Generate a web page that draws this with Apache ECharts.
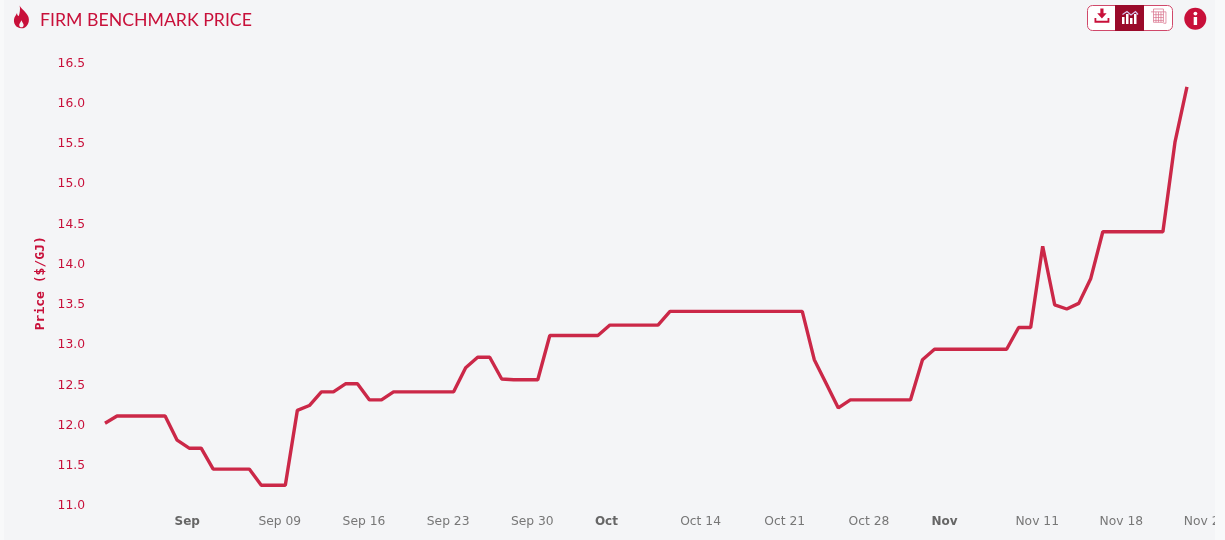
<!DOCTYPE html>
<html>
<head>
<meta charset="utf-8">
<style>
html,body{margin:0;padding:0;background:#f8f9fa;overflow:hidden}
#clip{position:absolute;left:4px;top:0;width:1211px;height:540px;overflow:hidden;background:#f4f5f7}
#main{position:absolute;left:-4px;top:0;width:1225px;height:540px}
</style>
</head>
<body>
<div id="clip"><div id="main"></div></div>
<script src="https://cdn.jsdelivr.net/npm/echarts@6/dist/echarts.min.js"></script>
<script>
var categories = [
 'Aug 25','Aug 26','Aug 27','Aug 28','Aug 29','Aug 30','Aug 31',
 'Sep 01','Sep 02','Sep 03','Sep 04','Sep 05','Sep 06','Sep 07','Sep 08','Sep 09','Sep 10','Sep 11','Sep 12','Sep 13','Sep 14','Sep 15',
 'Sep 16','Sep 17','Sep 18','Sep 19','Sep 20','Sep 21','Sep 22','Sep 23','Sep 24','Sep 25','Sep 26','Sep 27','Sep 28','Sep 29','Sep 30',
 'Oct 01','Oct 02','Oct 03','Oct 04','Oct 05','Oct 06','Oct 07','Oct 08','Oct 09','Oct 10','Oct 11','Oct 12','Oct 13','Oct 14','Oct 15',
 'Oct 16','Oct 17','Oct 18','Oct 19','Oct 20','Oct 21','Oct 22','Oct 23','Oct 24','Oct 25','Oct 26','Oct 27','Oct 28','Oct 29','Oct 30','Oct 31',
 'Nov 01','Nov 02','Nov 03','Nov 04','Nov 05','Nov 06','Nov 07','Nov 08','Nov 09','Nov 10','Nov 11','Nov 12','Nov 13','Nov 14','Nov 15','Nov 16','Nov 17',
 'Nov 18','Nov 19','Nov 20','Nov 21','Nov 22','Nov 23','Nov 24','Nov 25'
];
var prices = [
 12.01,12.1,12.1,12.1,12.1,12.1,11.8,
 11.7,11.7,11.44,11.44,11.44,11.44,11.24,11.24,11.24,12.17,12.23,12.4,12.4,12.5,12.5,
 12.3,12.3,12.4,12.4,12.4,12.4,12.4,12.4,12.7,12.83,12.83,12.56,12.55,12.55,12.55,
 13.1,13.1,13.1,13.1,13.1,13.23,13.23,13.23,13.23,13.23,13.4,13.4,13.4,13.4,13.4,
 13.4,13.4,13.4,13.4,13.4,13.4,13.4,12.8,12.5,12.2,12.3,12.3,12.3,12.3,12.3,12.3,
 12.8,12.93,12.93,12.93,12.93,12.93,12.93,12.93,13.2,13.2,14.21,13.48,13.43,13.5,13.81,14.39,14.39,
 14.39,14.39,14.39,14.39,15.5,16.19,null,null
];
var weekTicks = ['Sep 02','Sep 09','Sep 16','Sep 23','Sep 30','Oct 07','Oct 14','Oct 21','Oct 28','Nov 04','Nov 11','Nov 18','Nov 25'];
var monthTicks = {'Sep 02':'Sep','Oct 07':'Oct','Nov 04':'Nov'};
var titleText = 'FIRM BENCHMARK PRICE';
var yAxisName = 'Price ($/GJ)';

var RED = '#c8103a', LINE = '#cb2848', DARK = '#9a0a2a', FONT = '"DejaVu Sans"';

echarts.graphic.registerShape('iconDownload', echarts.graphic.extendPath('M6.500 0h3.500v5h3.500l-5.250 5.500-5.250-5.500h3.500z M0 10h2v3h12.500v-3h2v5H0z'));
echarts.graphic.registerShape('iconFlame', echarts.graphic.extendPath('M7 0C9 4 15 7 17 12C19 18 15 24 9 24C3 24 -1 19 1 13C2 11 3 10 4 8C4 10 5 11 6 11C7 8 8 4 7 0Z M9 23C10.500 23 11.500 22 11.500 20.500C11.500 19 10 18 9 15.500C8 18 6.500 19 6.500 20.500C6.500 22 7.500 23 9 23Z'));
echarts.graphic.registerShape('iconTable', echarts.graphic.extendPath('M3 3V0H15V3 M15 3H18V15H15 M3 3H15V14H3Z M0 3H3 M3 6H15 M3 9H15 M3 12H15 M6 3V14 M9 3V14 M12 3V14'));

var chart = echarts.init(document.getElementById('main'), null, {renderer:'canvas'});

var gfx = [
 {type:'iconFlame',x:13.5,y:5.5,scaleX:0.88,scaleY:0.95,style:{fill:RED,fillRule:'evenodd'}},
 {type:'rect',shape:{x:1087.5,y:5.5,width:85,height:25,r:5},style:{fill:'#fff',stroke:'#d0486a',lineWidth:1}},
 {type:'rect',shape:{x:1115,y:5,width:29,height:26},style:{fill:DARK}},
 {type:'iconDownload',x:1094.5,y:8.5,scaleX:0.9,scaleY:0.95,style:{fill:RED}},
 {type:'rect',shape:{x:1122,y:17,width:2.5,height:7},style:{fill:'#fff'}},
 {type:'rect',shape:{x:1126,y:14,width:2.5,height:10},style:{fill:'#fff'}},
 {type:'rect',shape:{x:1130,y:18,width:2.5,height:6},style:{fill:'#fff'}},
 {type:'rect',shape:{x:1134,y:14,width:2.5,height:10},style:{fill:'#fff'}},
 {type:'polyline',shape:{points:[[1122.5,14.5],[1127,11.5],[1131,15],[1135.5,11.5],[1138,14.5]]},style:{stroke:'#d8c8f0',fill:null,lineWidth:1.2}},
 {type:'iconTable',x:1151,y:9,scaleX:0.83,scaleY:0.95,style:{stroke:'#d8708a',fill:null,lineWidth:0.8}},
 {type:'circle',shape:{cx:1195.3,cy:18.8,r:11},style:{fill:RED}},
 {type:'rect',shape:{x:1193.7,y:17,width:3.4,height:8},style:{fill:'#fff'}},
 {type:'circle',shape:{cx:1195.4,cy:13.6,r:1.9},style:{fill:'#fff'}}
];

chart.setOption({
 backgroundColor:'transparent',
 animation:false,
 title:{text:titleText,left:40,top:11,padding:0,textStyle:{fontFamily:'Lato',fontSize:17.7,fontWeight:'normal',color:RED}},
 grid:{left:105,right:14,top:62,bottom:35.5,outerBoundsMode:'none',containLabel:false},
 xAxis:{
  type:'category',data:categories,boundaryGap:false,
  axisLine:{show:false},axisTick:{show:false},splitLine:{show:false},
  axisLabel:{
   customValues:weekTicks,hideOverlap:false,margin:11.5,showMinLabel:true,showMaxLabel:true,
   formatter:function(v){ return monthTicks[v] ? '{'+(v==='Oct 07'?'c':'b')+'|'+monthTicks[v]+'}' : '{n|'+v+'}'; },
   rich:{
    n:{fontFamily:FONT,fontSize:12.3,color:'#777',padding:[0,11,0,0]},
    b:{fontFamily:FONT,fontSize:12,fontWeight:'bold',color:'#666',padding:[0,28,0,0]},
    c:{fontFamily:FONT,fontSize:12,fontWeight:'bold',color:'#666',padding:[0,31,0,0]}
   }
  }
 },
 yAxis:{
  type:'value',min:11,max:16.5,interval:0.5,
  name:yAxisName,nameLocation:'middle',nameGap:55,
  nameTextStyle:{fontFamily:'"DejaVu Sans Mono"',fontSize:13,fontWeight:'bold',color:RED},
  axisLine:{show:false},axisTick:{show:false},splitLine:{show:false},
  axisLabel:{margin:20,showMinLabel:true,showMaxLabel:true,
   formatter:function(v){return '{v|'+v.toFixed(1)+'}';},
   rich:{v:{fontFamily:FONT,fontSize:12.3,color:RED,padding:[3,0,0,0]}}}
 },
 series:[{type:'line',data:prices,showSymbol:false,symbol:'none',connectNulls:false,
  lineStyle:{color:LINE,width:3.4,join:'bevel',cap:'butt'},clip:false}],
 graphic:gfx
});
</script>
</body>
</html>
